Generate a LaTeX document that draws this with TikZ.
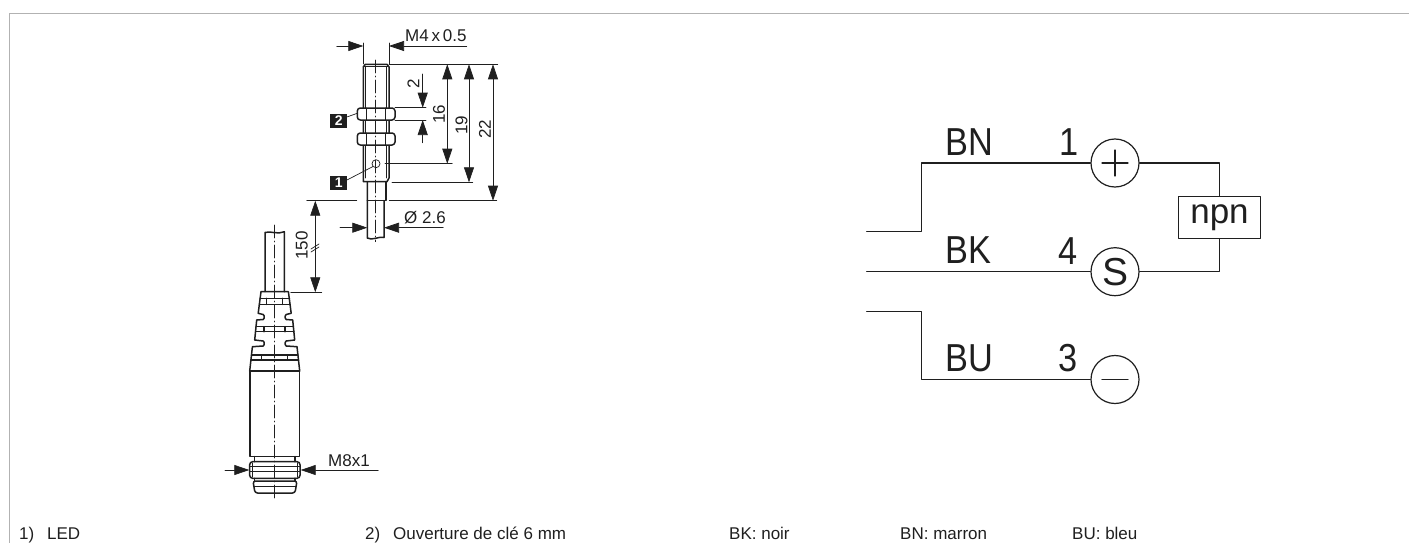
\documentclass[tikz,border=0pt]{standalone}
\usepackage{fontspec}
\setmainfont{Liberation Sans}
\usepackage{xcolor}
\usetikzlibrary{arrows.meta}
\definecolor{framegray}{rgb}{0.70,0.70,0.70}
\definecolor{inkgray}{rgb}{0.12,0.12,0.12}
\tikzset{
  outline/.style={line width=1.5pt,color=inkgray},
  fineline/.style={line width=0.7pt,color=inkgray},
  dimline/.style={line width=0.7pt,color=inkgray,{Triangle[length=15pt,width=10pt]}-{Triangle[length=15pt,width=10pt]}},
  tipin/.style={line width=0.7pt,color=inkgray,-{Triangle[length=15pt,width=10pt]}},
  axisline/.style={line width=0.6pt,color=inkgray,dash pattern=on 13pt off 3pt on 1pt off 3pt},
  dimtext/.style={font=\fontsize{17}{18}\selectfont,color=inkgray,inner sep=0pt},
  foottext/.style={font=\fontsize{17}{18}\selectfont,color=inkgray,inner sep=0pt,anchor=base west},
  wiretext/.style={font=\fontsize{39}{42}\selectfont,color=inkgray,inner sep=0pt,anchor=base west,xscale=0.88},
  marker/.style={fill=inkgray,text=white,font=\fontsize{14}{15}\selectfont\bfseries,inner sep=0pt,minimum width=17pt,minimum height=14pt},
  pin/.style={draw=inkgray,line width=1.2pt,circle,inner sep=0pt,minimum size=48pt,font=\fontsize{39}{42}\selectfont,text=inkgray},
  wire/.style={line width=1.2pt,color=inkgray}
}
\begin{document}
\begin{tikzpicture}[line cap=round,line join=round,x=1.0pt,y=-1.0pt]
\useasboundingbox (0,0) rectangle (1409,543);
% frame
\draw[line width=1.6pt,color=framegray,line cap=butt] (9.5,543) -- (9.5,13.5) -- (1409,13.5);

% sensor body
\draw[outline] (363.3,181.7) -- (363.3,67) -- (365.3,64.3) -- (387,64.3) -- (389,67) -- (389,178) -- (387,181.7) -- (365.3,181.7) -- cycle;
\draw[fineline] (363.3,66.5) -- (389,66.5);
\draw[fineline] (365.8,66.5) -- (365.8,178);
\draw[fineline] (386.5,66.5) -- (386.5,178);
\foreach \ya/\yb in {108/120,133/145}{
  \draw[outline,fill=white,rounded corners=3pt] (357.3,\ya) rectangle (395,\yb);
  \draw[fineline] (366.7,\ya) -- (366.7,\yb);
  \draw[fineline] (385.7,\ya) -- (385.7,\yb);
}
\draw[outline] (367.3,181.7) -- (367.3,238) .. controls (372,241) and (379,236) .. (384,237.5) -- (384,200.7);
\draw[outline] (386,181.7) -- (386,200.7) -- (367.3,200.7);
\draw[fineline] (376,163.7) circle (4pt);
\draw[axisline] (375.7,60) -- (375.7,241.7);

% markers
\node[marker] (ledmark) at (338.7,183) {1};
\node[marker] (keymark) at (338.7,121) {2};
\draw[fineline] (ledmark.north east) ++(0,4) -- (373,166.5);
\draw[fineline] (keymark.north east) ++(0,3) -- (357.3,113.3);

% sensor dimensions
\draw[fineline] (363.3,43) -- (363.3,64);
\draw[fineline] (389,43) -- (389,64);
\draw[tipin] (336.7,46) -- (363.3,46);
\draw[tipin] (466.7,46) -- (389,46);
\node[dimtext,anchor=base west] (threadlabel) at (405,41.5) {M4\,x\,0.5};
\draw[fineline] (389,64.3) -- (497.7,64.3);
\draw[fineline] (385,163.7) -- (452.3,163.7);
\draw[fineline] (392,182.3) -- (472.7,182.3);
\draw[fineline] (389.3,200.7) -- (496.7,200.7);
\draw[fineline] (306.7,200.7) -- (356.7,200.7);
\draw[fineline] (395,107.7) -- (426,107.7);
\draw[fineline] (395,120) -- (426,120);
\draw[dimline] (447.3,64.3) -- (447.3,163.7);
\draw[dimline] (469,64.3) -- (469,182.3);
\draw[dimline] (493,64.3) -- (493,200.7);
\draw[tipin] (422.7,74) -- (422.7,107.7);
\draw[tipin] (422.7,142.7) -- (422.7,120);
\node[dimtext,rotate=90] (gaplabel) at (413.5,84) {2};
\node[dimtext,rotate=90] (lenlabela) at (439,114.5) {16};
\node[dimtext,rotate=90] (lenlabelb) at (461.5,125) {19};
\node[dimtext,rotate=90] (lenlabelc) at (485,129) {22};
\draw[tipin] (340,227.7) -- (367.3,227.7);
\draw[tipin] (443.3,227.7) -- (384,227.7);
\node[dimtext,anchor=base west] (diamlabel) at (404,223) {Ø 2.6};

% cable and boot
\draw[outline] (265,291.7) -- (265,232.5) .. controls (270,230.5) and (278,235) .. (284.3,231.7) -- (284.3,291.7);
\draw[dimline] (315.3,200.7) -- (315.3,292.3);
\draw[fineline] (290.7,292.3) -- (321.7,292.3);
\draw[fineline] (311,249) -- (319,244);
\draw[fineline] (311,252) -- (319,247);
\node[dimtext,rotate=90] (cablelabel) at (301.7,245.7) {150};
\draw[outline] (261,291.7) -- (258.2,313.3) -- (263.2,314.5) -- (264.2,316) -- (264.2,318) -- (263.2,319.5) -- (256.7,320) -- (254.7,340) -- (263.2,341) -- (264.2,342.5) -- (264.2,344.5) -- (263.2,346) -- (252.4,346.7) -- (249.7,371)
  -- (299.7,371) -- (297,346.7) -- (286.2,346) -- (285.2,344.5) -- (285.2,342.5) -- (286.2,341) -- (294.7,340) -- (292.7,320) -- (286.2,319.5) -- (285.2,318) -- (285.2,316) -- (286.2,314.5) -- (291.2,313.3) -- (288.4,291.7) -- cycle;
\foreach \ya/\yb/\ha/\hb/\tick in {298.3/304.3/14.6/15.3/8,326.7/331.7/18.7/19.2/10.5,355/360/23.2/23.8/13}{
  \draw[outline] (274.7-\ha,\ya) -- (274.7+\ha,\ya);
  \draw[outline] (274.7-\hb,\yb) -- (274.7+\hb,\yb);
  \draw[outline] (274.7-\tick,\ya) -- (274.7-\tick,\yb);
  \draw[outline] (274.7+\tick,\ya) -- (274.7+\tick,\yb);
}
\draw[outline] (249.8,371) rectangle (299.4,456.7);

% connector head
\draw[outline] (254.3,456.7) -- (254.3,461.7);
\draw[outline] (295,456.7) -- (295,461.7);
\draw[outline,rounded corners=3pt] (249.7,461.7) rectangle (300,478.3);
\draw[fineline] (252.3,463) -- (252.3,477);
\draw[fineline] (297.7,463) -- (297.7,477);
\draw[fineline] (250,466.7) -- (300,466.7);
\draw[fineline] (250,471.7) -- (300,471.7);
\draw[outline] (254.3,478.3) -- (254.3,481);
\draw[outline] (295,478.3) -- (295,481);
\draw[outline,rounded corners=2.5pt] (253,481) -- (255,493) -- (295,493) -- (297,481) -- cycle;
\draw[outline] (254,486.7) -- (296,486.7);
\draw[axisline] (274.7,225) -- (274.7,499.3);
\draw[tipin] (225,470) -- (249.3,470);
\draw[tipin] (378.3,470) -- (300.7,470);
\node[dimtext,anchor=base west] (headlabel) at (328,466) {M8x1};

% wiring
\node[pin] (plus) at (1115,163) {};
\node[pin] (signal) at (1115,271.7) {S};
\node[pin] (minus) at (1115,379.5) {};
\node[draw=inkgray,line width=1.2pt,minimum width=82pt,minimum height=41.5pt,inner sep=0pt,font=\fontsize{35}{38}\selectfont,text=inkgray] (npn) at (1219.5,217.5) {npn};
\draw[wire] ([xshift=-13pt]plus.center) -- ([xshift=13pt]plus.center);
\draw[wire] ([yshift=-13pt]plus.center) -- ([yshift=13pt]plus.center);
\draw[wire] ([xshift=-13pt]minus.center) -- ([xshift=13pt]minus.center);
\coordinate (bnend) at (866.7,231.7);
\coordinate (bkend) at (866.7,271.7);
\coordinate (buend) at (866.7,311.7);
\draw[wire] (bnend) -- (921.7,231.7) |- (plus.west);
\draw[wire] (bkend) -- (signal.west);
\draw[wire] (buend) -- (921.7,311.7) |- (minus.west);
\draw[wire] (plus.east) -| (npn.north);
\draw[wire] (signal.east) -| (npn.south);
\node[wiretext] (bnlabel) at (945,155.7) {BN};
\node[wiretext] (bklabel) at (945,263.5) {BK};
\node[wiretext] (bulabel) at (945,371.7) {BU};
\node[wiretext] (pina) at (1059,155.7) {1};
\node[wiretext] (pinb) at (1058,264.5) {4};
\node[wiretext] (pinc) at (1058,371.7) {3};

% notes
\node[foottext] (notea) at (19,539) {1)};
\node[foottext] (noteatext) at (47,539) {LED};
\node[foottext] (noteb) at (365,539) {2)};
\node[foottext] (notebtext) at (393,539) {Ouverture de clé 6 mm};
\node[foottext] (colorbk) at (729,539) {BK: noir};
\node[foottext] (colorbn) at (900,539) {BN: marron};
\node[foottext] (colorbu) at (1072,539) {BU: bleu};
\end{tikzpicture}
\end{document}
